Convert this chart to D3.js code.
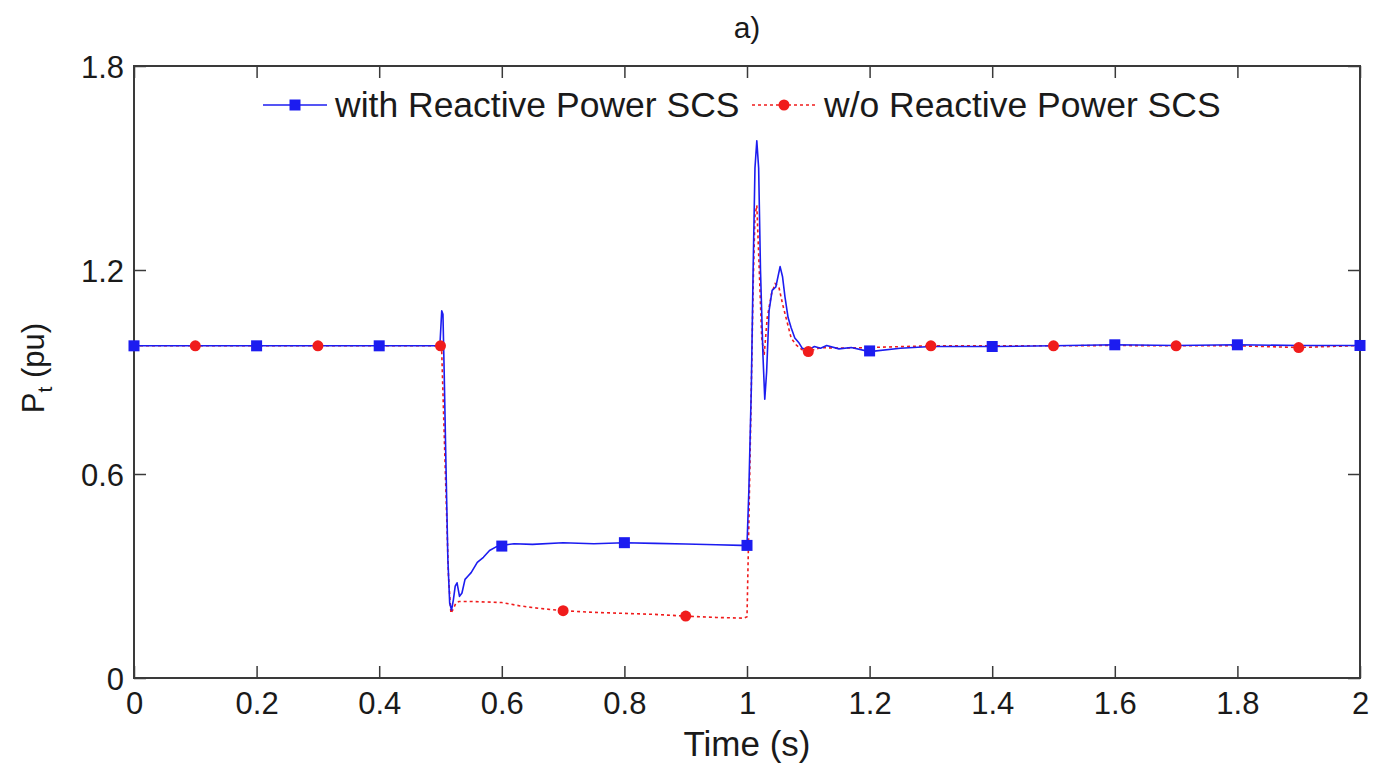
<!DOCTYPE html>
<html>
<head>
<meta charset="utf-8">
<script src="https://cdn.jsdelivr.net/npm/d3@7"></script>
<style>
  body { margin: 0; background: #fff; }
  text { font-family: "Liberation Sans", Arial, sans-serif; fill: #1a1a1a; }
</style>
</head>
<body>
<div id="chart"></div>
<script>
const width = 1381,
  height = 771;
const margin = { top: 66, right: 21, bottom: 93, left: 134 };

// series: time (s) and Pt (pu)
const withTime = [0, 0.499, 0.502, 0.504, 0.506, 0.509, 0.512, 0.515, 0.518, 0.521, 0.524, 0.527, 0.531, 0.535, 0.54, 0.545, 0.55, 0.56, 0.57, 0.58, 0.59, 0.6, 0.62, 0.65, 0.7, 0.75, 0.8, 0.85, 0.9, 0.95, 0.99, 1.0, 1.003, 1.007, 1.01, 1.013, 1.016, 1.019, 1.022, 1.026, 1.029, 1.032, 1.036, 1.041, 1.047, 1.054, 1.058, 1.062, 1.067, 1.072, 1.078, 1.085, 1.09, 1.1, 1.11, 1.12, 1.13, 1.15, 1.17, 1.2, 1.25, 1.3, 1.4, 1.5, 1.6, 1.7, 1.8, 1.9, 2.0];
const withVals = [0.977, 0.977, 1.08, 1.07, 0.9, 0.62, 0.35, 0.22, 0.2, 0.23, 0.27, 0.28, 0.24, 0.25, 0.29, 0.3, 0.31, 0.34, 0.355, 0.375, 0.385, 0.39, 0.395, 0.393, 0.398, 0.395, 0.398, 0.396, 0.394, 0.392, 0.39, 0.39, 0.55, 0.85, 1.2, 1.5, 1.58, 1.5, 1.2, 0.95, 0.82, 0.9, 1.08, 1.14, 1.15, 1.21, 1.18, 1.12, 1.06, 1.03, 1.0, 0.985, 0.97, 0.965, 0.975, 0.97, 0.978, 0.968, 0.972, 0.96, 0.97, 0.975, 0.975, 0.977, 0.98, 0.978, 0.98, 0.978, 0.978];

const woTime = [0, 0.5, 0.502, 0.508, 0.513, 0.517, 0.52, 0.525, 0.53, 0.55, 0.6, 0.63, 0.66, 0.7, 0.75, 0.8, 0.85, 0.9, 0.95, 0.995, 1.0, 1.003, 1.007, 1.01, 1.013, 1.016, 1.02, 1.024, 1.028, 1.033, 1.04, 1.046, 1.052, 1.058, 1.065, 1.072, 1.08, 1.09, 1.1, 1.12, 1.15, 1.2, 1.3, 1.4, 1.5, 1.6, 1.7, 1.8, 1.9, 2.0];
const woVals = [0.977, 0.977, 0.96, 0.6, 0.3, 0.19, 0.2, 0.22, 0.225, 0.225, 0.222, 0.212, 0.205, 0.198, 0.193, 0.19, 0.187, 0.182, 0.178, 0.176, 0.18, 0.45, 0.85, 1.15, 1.36, 1.39, 1.2, 1.0, 0.95, 1.06, 1.13, 1.16, 1.15, 1.1, 1.05, 1.0, 0.98, 0.965, 0.96, 0.972, 0.97, 0.972, 0.977, 0.977, 0.977, 0.978, 0.977, 0.977, 0.972, 0.978];

// marker positions
const withMarkT = [0, 0.2, 0.4, 0.6, 0.8, 1.0, 1.2, 1.4, 1.6, 1.8, 2.0];
const withMarkV = [0.977, 0.977, 0.977, 0.388, 0.398, 0.39, 0.962, 0.975, 0.98, 0.98, 0.978];
const woMarkT = [0.1, 0.3, 0.5, 0.7, 0.9, 1.1, 1.3, 1.5, 1.7, 1.9];
const woMarkV = [0.977, 0.977, 0.977, 0.198, 0.182, 0.96, 0.977, 0.977, 0.977, 0.972];

const xTicks = [0, 0.2, 0.4, 0.6, 0.8, 1, 1.2, 1.4, 1.6, 1.8, 2];
const yTicks = [0, 0.6, 1.2, 1.8];
const legendLabels = ["with Reactive Power SCS", "w/o Reactive Power SCS"];

const blue = "#1c1cf0",
  red = "#f01c1c";

const svg = d3.select("#chart").append("svg").attr("width", width).attr("height", height);

const x = d3.scaleLinear().domain([0, 2]).range([margin.left, width - margin.right]);
const y = d3.scaleLinear().domain([0, 1.8]).range([height - margin.bottom, margin.top]);

const tickLen = 12;
const axisColor = "#3a3a3a";

// axes, MATLAB style: inward ticks on all four sides
function styleAxis(g) {
  g.select(".domain").remove();
  g.selectAll(".tick line").attr("stroke", axisColor).attr("stroke-width", 1.5);
  g.selectAll(".tick text").attr("font-size", 31).attr("fill", "#1a1a1a");
}

svg
  .append("g")
  .attr("transform", `translate(0,${y(0)})`)
  .call(d3.axisBottom(x).tickValues(xTicks).tickFormat(d3.format("~g")).tickSizeInner(-tickLen).tickPadding(14))
  .call(styleAxis);

svg
  .append("g")
  .attr("transform", `translate(0,${y(1.8)})`)
  .call(d3.axisTop(x).tickValues(xTicks).tickFormat("").tickSizeInner(-tickLen))
  .call(styleAxis);

svg
  .append("g")
  .attr("transform", `translate(${x(0)},0)`)
  .call(d3.axisLeft(y).tickValues(yTicks).tickFormat(d3.format("~g")).tickSizeInner(-tickLen).tickPadding(10))
  .call(styleAxis)
  .call(g => g.selectAll(".tick text").attr("dy", "0.36em"));

svg
  .append("g")
  .attr("transform", `translate(${x(2)},0)`)
  .call(d3.axisRight(y).tickValues(yTicks).tickFormat("").tickSizeInner(-tickLen))
  .call(styleAxis);

// frame
svg
  .append("rect")
  .attr("x", x(0))
  .attr("y", y(1.8))
  .attr("width", x(2) - x(0))
  .attr("height", y(0) - y(1.8))
  .attr("fill", "none")
  .attr("stroke", axisColor)
  .attr("stroke-width", 2);

const line = d3
  .line()
  .x(d => x(d[0]))
  .y(d => y(d[1]));

const woData = d3.zip(woTime, woVals);
const withData = d3.zip(withTime, withVals);

svg
  .append("path")
  .datum(woData)
  .attr("d", line)
  .attr("fill", "none")
  .attr("stroke", red)
  .attr("stroke-width", 1.6)
  .attr("stroke-dasharray", "3,3");

svg
  .append("path")
  .datum(withData)
  .attr("d", line)
  .attr("fill", "none")
  .attr("stroke", blue)
  .attr("stroke-width", 1.6)
  .attr("stroke-linejoin", "round");

// markers
const sq = 11;
svg
  .selectAll(".mk-with")
  .data(d3.zip(withMarkT, withMarkV))
  .join("rect")
  .attr("x", d => x(d[0]) - sq / 2)
  .attr("y", d => y(d[1]) - sq / 2)
  .attr("width", sq)
  .attr("height", sq)
  .attr("fill", blue);

svg
  .selectAll(".mk-wo")
  .data(d3.zip(woMarkT, woMarkV))
  .join("circle")
  .attr("cx", d => x(d[0]))
  .attr("cy", d => y(d[1]))
  .attr("r", 5.5)
  .attr("fill", red);

// legend
const legend = svg.append("g");
const legItems = [
  { label: legendLabels[0], x0: 263, color: blue, dash: null, marker: "square" },
  { label: legendLabels[1], x0: 752, color: red, dash: "3,3", marker: "circle" }
];
legItems.forEach(it => {
  const ly = 105;
  legend
    .append("line")
    .attr("x1", it.x0)
    .attr("x2", it.x0 + 64)
    .attr("y1", ly)
    .attr("y2", ly)
    .attr("stroke", it.color)
    .attr("stroke-width", 1.6)
    .attr("stroke-dasharray", it.dash);
  if (it.marker === "square") {
    legend
      .append("rect")
      .attr("x", it.x0 + 32 - sq / 2)
      .attr("y", ly - sq / 2)
      .attr("width", sq)
      .attr("height", sq)
      .attr("fill", it.color);
  } else {
    legend.append("circle").attr("cx", it.x0 + 32).attr("cy", ly).attr("r", 5.5).attr("fill", it.color);
  }
  legend
    .append("text")
    .attr("x", it.x0 + 72)
    .attr("y", ly + 12)
    .attr("font-size", 35.5)
    .text(it.label);
});

// titles
svg
  .append("text")
  .attr("x", (x(0) + x(2)) / 2)
  .attr("y", 38)
  .attr("text-anchor", "middle")
  .attr("font-size", 30)
  .text("a)");

svg
  .append("text")
  .attr("x", (x(0) + x(2)) / 2)
  .attr("y", 756)
  .attr("text-anchor", "middle")
  .attr("font-size", 35)
  .text("Time (s)");

const yl = svg
  .append("text")
  .attr("transform", `translate(44,${368}) rotate(-90)`)
  .attr("text-anchor", "middle")
  .attr("font-size", 31);
yl.append("tspan").text("P");
yl.append("tspan").attr("font-size", 21).attr("dy", 8).text("t");
yl.append("tspan").attr("dy", -8).text(" (pu)");
</script>
</body>
</html>
